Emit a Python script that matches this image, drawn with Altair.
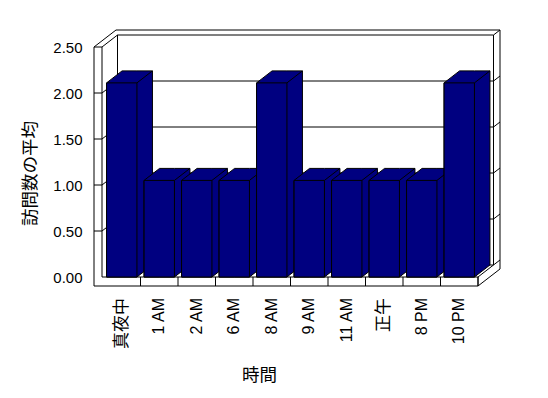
import altair as alt
import pandas as pd

# ---- data ----
categories = ['真夜中', '1 AM', '2 AM', '6 AM', '8 AM', '9 AM', '11 AM', '正午', '8 PM', '10 PM']
values = [2.11, 1.05, 1.05, 1.05, 2.11, 1.05, 1.05, 1.05, 1.05, 2.11]
y_ticks = [0.0, 0.5, 1.0, 1.5, 2.0, 2.5]
x_title = '時間'
y_title = '訪問数の平均'

# ---- style / geometry constants ----
W, H = 375, 230
YMAX = 2.5
N = len(categories)
STEP = W / N
PAD = 0.095      # gap before bar (fraction of a slot)
BW = 0.81        # bar width (fraction of a slot)
DX, DY = 15.5, 12.0   # 3-D depth in px
EX, EY = 6.5, 5.0     # wall thickness depth in px
WALL, FLOOR = 8, 9
NAVY = '#000080'
LATIN = 'Liberation Sans, Noto Sans CJK JP'
CJK = 'Noto Sans CJK JP'

dxu = DX / STEP
dyu = DY / (H / YMAX)

bars = pd.DataFrame({'cat': categories, 'v': values})
bars['i'] = range(N)
bars['L'] = bars['i'] + PAD
bars['R'] = bars['L'] + BW
bars['Rb'] = bars['R'] + dxu
bars['vb'] = bars['v'] + dyu
bars['xc'] = bars['i'] + 0.5
bars['xe'] = bars['i'] + 1.0

rows = []
for i, v in enumerate(values):
    L = i + PAD
    R = L + BW
    for x, y, y2 in [(L, v, 0.0), (L + dxu, v + dyu, 0.0), (R, v + dyu, 0.0), (R + dxu, v + dyu, dyu)]:
        rows.append({'bar': i, 'x': x, 'y': y, 'y2': y2})
sil = pd.DataFrame(rows)

ticks = pd.DataFrame({'t': y_ticks})
one = pd.DataFrame({'k': [0]})

xs = alt.Scale(domain=[0, N], nice=False, zero=False)
ys = alt.Scale(domain=[0, YMAX], nice=False)

xaxis = alt.Axis(labels=False, ticks=False, domain=False, grid=False, title=x_title,
                 titleFont=CJK, titleFontSize=17.5, titleFontWeight='normal', titleColor='black',
                 titleX=156, titleY=98, titleBaseline='middle', titleAlign='center', titleAngle=0)
yaxis = alt.Axis(values=y_ticks, format='.2f', domain=False, ticks=False, grid=False,
                 labelPadding=21, labelFont='Liberation Sans', labelFontSize=15, labelColor='black',
                 title=y_title, titleFont=CJK, titleFontSize=17.5, titleFontWeight='normal',
                 titleColor='black', titleX=-73, titleY=126, titleAngle=270,
                 titleAlign='center', titleBaseline='middle')


def X(f):
    return alt.X(f, scale=xs, axis=xaxis)


def Y(f):
    return alt.Y(f, scale=ys, axis=yaxis, stack=None)


def seg(x1, x2, y1, y2, yo1=0.0, yo2=0.0):
    return alt.Chart(one).mark_rule(color='black', strokeWidth=1, yOffset=yo1, y2Offset=yo2).encode(
        x=alt.value(x1), x2=alt.value(x2), y=alt.datum(y1), y2=alt.datum(y2))


layers = []
# back wall gridlines and their wrap on the wall's side
layers.append(alt.Chart(ticks).mark_rule(color='black', strokeWidth=1, yOffset=-DY).encode(
    y=Y('t:Q'), x=alt.value(-1 + DX), x2=alt.value(W + DX)))
layers.append(alt.Chart(ticks).mark_rule(color='black', strokeWidth=1, yOffset=-DY, y2Offset=-DY - EY).encode(
    y=Y('t:Q'), y2='t:Q', x=alt.value(W + DX), x2=alt.value(W + DX + EX)))
# left wall ticks
layers.append(alt.Chart(ticks).transform_filter('datum.t > 0').mark_rule(color='black', strokeWidth=1).encode(
    y=Y('t:Q'), x=alt.value(-1 - WALL), x2=alt.value(-1)))
layers.append(alt.Chart(ticks).transform_filter('datum.t > 0').mark_rule(color='black', strokeWidth=1, y2Offset=-DY).encode(
    y=Y('t:Q'), y2='t:Q', x=alt.value(-1), x2=alt.value(-1 + DX)))
# frame
layers += [
    seg(-1 - WALL, -1 - WALL, YMAX, 0, 0, FLOOR),
    seg(-1, -1, YMAX, 0),
    seg(-1 - WALL, W, 0, 0, FLOOR, FLOOR),
    seg(-1, W, 0, 0),
    seg(W, W, 0, 0, 0, FLOOR),
    seg(W, W + DX, 0, 0, 0, -DY),
    seg(W, W + DX + EX, 0, 0, FLOOR, FLOOR - DY - EY),
    seg(-1 - WALL, -1 - WALL + DX + EX, YMAX, YMAX, 0, -DY - EY),
    seg(-1 - WALL + DX + EX, W + DX + EX, YMAX, YMAX, -DY - EY, -DY - EY),
    seg(W + DX + EX, W + DX + EX, YMAX, 0, -DY - EY, FLOOR - DY - EY),
    seg(-1 + DX, -1 + DX, YMAX, 0, -DY, -DY),
    seg(W + DX, W + DX, YMAX, 0, -DY, -DY),
]
# floor ticks at slot boundaries
layers.append(alt.Chart(bars).mark_rule(color='black', strokeWidth=1, y2Offset=FLOOR).encode(
    x=X('xe:Q'), y=alt.datum(0), y2=alt.datum(0)))
# bar silhouettes (front + top + side)
layers.append(alt.Chart(sil).mark_area(fill=NAVY, stroke='black', strokeWidth=1, opacity=1).encode(
    x=X('x:Q'), y=Y('y:Q'), y2='y2:Q', detail='bar:N'))
# top-right edge
layers.append(alt.Chart(bars).mark_rule(color='black', strokeWidth=1).encode(
    x=X('R:Q'), x2='Rb:Q', y=Y('v:Q'), y2='vb:Q'))
# front faces
layers.append(alt.Chart(bars).mark_rect(fill=NAVY, stroke='black', strokeWidth=1).encode(
    x=X('L:Q'), x2='R:Q', y=Y('v:Q'), y2=alt.datum(0)))
# category labels
layers.append(alt.Chart(bars).mark_text(angle=270, align='right', baseline='middle', yOffset=21,
                                        font=LATIN, color='black').encode(
    x=X('xc:Q'), y=alt.datum(0), text='cat:N',
    size=alt.condition('test(/[^ -~]/, datum.cat)', alt.value(17), alt.value(16))))

chart = alt.layer(*layers).properties(
    width=W, height=H,
    padding={'left': 103, 'top': 47, 'right': 70, 'bottom': 121},
    autosize=alt.AutoSizeParams(type='none'),
    background='white',
).configure_view(stroke='transparent')

chart.save('out.html', embed_options={'renderer': 'svg', 'actions': False})
